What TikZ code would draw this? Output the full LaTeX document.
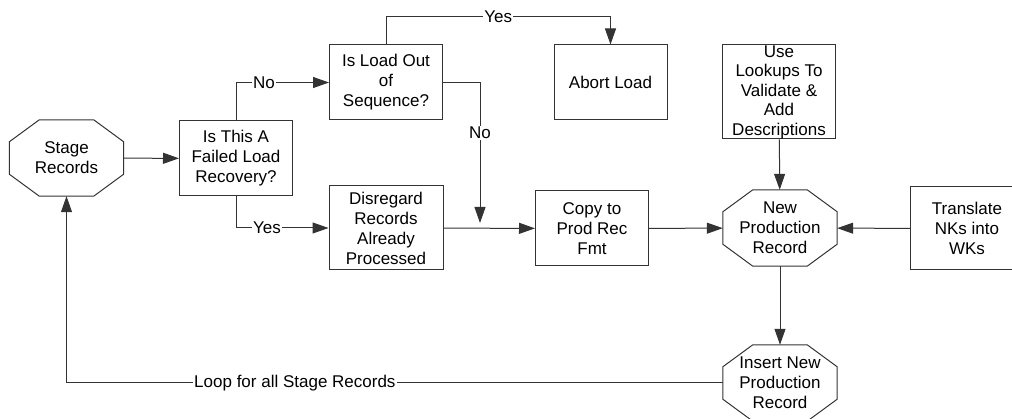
\documentclass[tikz,border=0pt]{standalone}
\usepackage{fontspec}
\setmainfont{Liberation Sans}
\usetikzlibrary{arrows.meta}

% octagon outline drawn round a named node
\newcommand{\octframe}[1]{%
  \draw[flowline] ([xshift=30pt]#1.north west) -- ([xshift=-30pt]#1.north east)
    -- ([yshift=-22pt]#1.north east) -- ([yshift=22pt]#1.south east)
    -- ([xshift=-30pt]#1.south east) -- ([xshift=30pt]#1.south west)
    -- ([yshift=22pt]#1.south west) -- ([yshift=-22pt]#1.north west) -- cycle;}

\begin{document}
\begin{tikzpicture}[
    x=1pt, y=-1pt,
    font=\fontsize{17}{20}\selectfont,
    procbox/.style={
      draw=black!80,
      line width=1pt,
      align=center,
      minimum width=113pt,
      minimum height=75pt,
      inner sep=0pt
    },
    octbox/.style={align=center,minimum width=114pt,minimum height=76pt,inner sep=0pt},
    flowline/.style={draw=black!80,line width=1pt},
    flowarrow/.style={flowline,-{Triangle[length=16pt,width=11pt]}},
    linelabel/.style={fill=white,inner sep=1pt}
  ]
  \useasboundingbox (0,0) rectangle (1012,419);

  \node[octbox] (stage) at (66.5,158) {Stage\\Records};
  \node[procbox] (failed) at (236,158.5) {Is This A\\Failed Load\\Recovery?};
  \node[procbox] (loadout) at (386,82.5) {Is Load Out\\of\\Sequence?};
  \node[procbox] (abort) at (610.5,82.5) {Abort Load};
  \node[procbox,minimum height=84pt,minimum width=114pt] (disregard) at (386,228)
    {Disregard\\Records\\Already\\Processed};
  \node[procbox] (copy) at (592,228.5) {Copy to\\Prod Rec\\Fmt};
  \node[procbox,minimum height=94pt,font=\fontsize{17}{19.5}\selectfont] (lookups) at (779,92)
    {Use\\Lookups To\\Validate \&\\Add\\Descriptions};
  \node[octbox] (newprod) at (780,228) {New\\Production\\Record};
  \node[procbox,minimum height=83pt] (translate) at (967,228.5) {Translate\\NKs into\\WKs};
  \node[octbox] (insert) at (780,383) {Insert New\\Production\\Record};
  \coordinate (merge) at (480,223);

  \octframe{stage}
  \octframe{newprod}
  \octframe{insert}

  \draw[flowarrow] (stage) -- (failed);
  \draw[flowarrow] (failed.north) |- node[linelabel,pos=0.65] {No} (loadout.west);
  \draw[flowarrow] (failed.south) |- node[linelabel,pos=0.667] {Yes} (disregard.west);
  \draw[flowarrow] (loadout.north) -- ++(0,-28) -| node[linelabel,pos=0.25] {Yes} (abort.north);
  \draw[flowarrow] (loadout.east) -| node[linelabel,pos=0.68] {No} (merge);
  \draw[flowarrow] (disregard) -- (copy);
  \draw[flowarrow] (copy) -- (newprod);
  \draw[flowarrow] (lookups) -- (newprod);
  \draw[flowarrow] (translate) -- (newprod);
  \draw[flowarrow] (newprod) -- (insert);
  \draw[flowarrow] (insert.west) -| node[linelabel,pos=0.326] {Loop for all Stage Records} (stage.south);
\end{tikzpicture}
\end{document}
